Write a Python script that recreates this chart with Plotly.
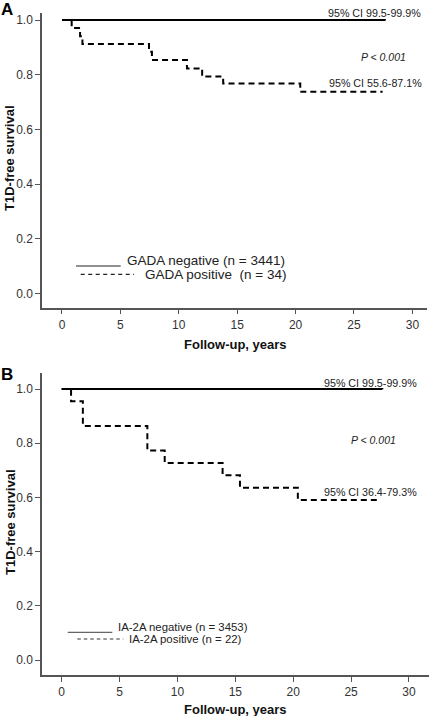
import plotly.graph_objects as go

# ---------------- data ----------------
# Panel A (GADA)
a_neg_t = [0, 27.65]
a_neg_s = [1.0, 0.998]
a_pos_t = [0, 0.83, 1.55, 1.75, 7.45, 7.7, 10.7, 12.0, 13.8, 20.4, 27.45]
a_pos_s = [1.0, 0.971, 0.941, 0.912, 0.884, 0.854, 0.823, 0.793, 0.768, 0.738, 0.738]
# Panel B (IA-2A)
b_neg_t = [0, 27.7]
b_neg_s = [1.0, 0.999]
b_pos_t = [0, 0.81, 1.83, 7.4, 8.9, 13.9, 15.4, 20.4, 27.3]
b_pos_s = [1.0, 0.955, 0.864, 0.773, 0.727, 0.682, 0.636, 0.591, 0.591]

x_ticks = [0, 5, 10, 15, 20, 25, 30]
y_ticks = [0.0, 0.2, 0.4, 0.6, 0.8, 1.0]
y_tick_labels = ["0.0", "0.2", "0.4", "0.6", "0.8", "1.0"]

a_legend = ["GADA negative (n = 3441)", "GADA positive  (n = 34)"]
b_legend = ["IA-2A negative (n = 3453)", "IA-2A positive (n = 22)"]
a_ci = ["95% CI 99.5-99.9%", "95% CI 55.6-87.1%"]
b_ci = ["95% CI 99.5-99.9%", "95% CI 36.4-79.3%"]
p_text = "<i>P < 0.001</i>"

FONT = "Arial, Liberation Sans, sans-serif"
W, H = 429, 716

fig = go.Figure()

def px_x(p):
    return p / W

def px_y(p):
    return 1 - p / H

dash_main = "6px,4px"
fig.add_trace(go.Scatter(x=a_neg_t, y=a_neg_s, mode="lines", line=dict(color="black", width=2, shape="hv"),
                         xaxis="x", yaxis="y", showlegend=False, hoverinfo="skip"))
fig.add_trace(go.Scatter(x=a_pos_t, y=a_pos_s, mode="lines", line=dict(color="black", width=2, shape="hv", dash=dash_main),
                         xaxis="x", yaxis="y", showlegend=False, hoverinfo="skip"))
fig.add_trace(go.Scatter(x=b_neg_t, y=b_neg_s, mode="lines", line=dict(color="black", width=2, shape="hv"),
                         xaxis="x2", yaxis="y2", showlegend=False, hoverinfo="skip"))
fig.add_trace(go.Scatter(x=b_pos_t, y=b_pos_s, mode="lines", line=dict(color="black", width=2, shape="hv", dash=dash_main),
                         xaxis="x2", yaxis="y2", showlegend=False, hoverinfo="skip"))

axis_common = dict(showline=True, linecolor="#555", linewidth=1.5, ticks="outside", ticklen=5,
                   tickcolor="#555", tickwidth=1, showgrid=False, zeroline=False, automargin=False,
                   tickfont=dict(family=FONT, size=12, color="#333"))

fig.update_layout(
    template="none",
    width=W, height=H, margin=dict(l=0, r=0, t=0, b=0, pad=0), autosize=False,
    paper_bgcolor="white", plot_bgcolor="white",
    xaxis=dict(domain=[px_x(42), px_x(427)], range=[-1.71, 31.25], tickvals=x_ticks,
               anchor="y", **axis_common),
    yaxis=dict(domain=[px_y(307.7), px_y(13)], range=[-0.052, 1.0256], tickvals=y_ticks,
               ticktext=y_tick_labels, anchor="x", **axis_common),
    xaxis2=dict(domain=[px_x(42), px_x(429)], range=[-1.70, 31.73], tickvals=x_ticks,
                anchor="y2", **axis_common),
    yaxis2=dict(domain=[px_y(675), px_y(373.3)], range=[-0.055, 1.058], tickvals=y_ticks,
                ticktext=y_tick_labels, anchor="x2", **axis_common),
)

ann = []

def text_px(text, x, y, size, xanchor="left", color="#222", angle=0):
    ann.append(dict(text=text, x=px_x(x), y=px_y(y), xref="paper", yref="paper", xanchor=xanchor,
                    yanchor="middle", showarrow=False, textangle=angle,
                    font=dict(family=FONT, size=size, color=color)))

# panel labels
text_px("<b>A</b>", -1, 9, 17, color="black")
text_px("<b>B</b>", -1, 374, 17, color="black")
# axis titles
for yc in (158, 522):
    text_px("<b>T1D-free survival</b>", 10, yc, 13, xanchor="center", color="#111", angle=-90)
for yc in (344, 709):
    text_px("<b>Follow-up, years</b>", 235, yc, 13, xanchor="center", color="#111")

# panel A texts
text_px(a_ci[0], 423, 13, 10.7, xanchor="right")
text_px(p_text, 383, 57, 10.5, xanchor="center")
text_px(a_ci[1], 424, 83, 10.7, xanchor="right")
# panel B texts
text_px(b_ci[0], 418.5, 383, 10.7, xanchor="right")
text_px(p_text, 373, 440, 10.5, xanchor="center")
text_px(b_ci[1], 418.5, 492, 10.7, xanchor="right")

# legends
text_px(a_legend[0], 125, 260, 13.5)
text_px(a_legend[1], 142.7, 274, 13.5)
text_px(b_legend[0], 115.7, 627.3, 11.4)
text_px(b_legend[1], 126.7, 639, 11.4)

shapes = [
    dict(type="line", xref="paper", yref="paper", x0=px_x(76), x1=px_x(120.7), y0=px_y(266), y1=px_y(266),
         line=dict(color="#222", width=1.2)),
    dict(type="line", xref="paper", yref="paper", x0=px_x(80.7), x1=px_x(134), y0=px_y(274.3), y1=px_y(274.3),
         line=dict(color="#222", width=1.2, dash="4px,3.5px")),
    dict(type="line", xref="paper", yref="paper", x0=px_x(67.7), x1=px_x(112.3), y0=px_y(632.3), y1=px_y(632.3),
         line=dict(color="#666", width=1.2)),
    dict(type="line", xref="paper", yref="paper", x0=px_x(77.3), x1=px_x(123.3), y0=px_y(639), y1=px_y(639),
         line=dict(color="#333", width=1.1, dash="3.5px,3px")),
]

fig.update_layout(annotations=ann, shapes=shapes)
fig.write_html("out.html", config={"displayModeBar": False},
               post_script="document.body.style.margin='0';document.body.style.overflow='hidden';")
